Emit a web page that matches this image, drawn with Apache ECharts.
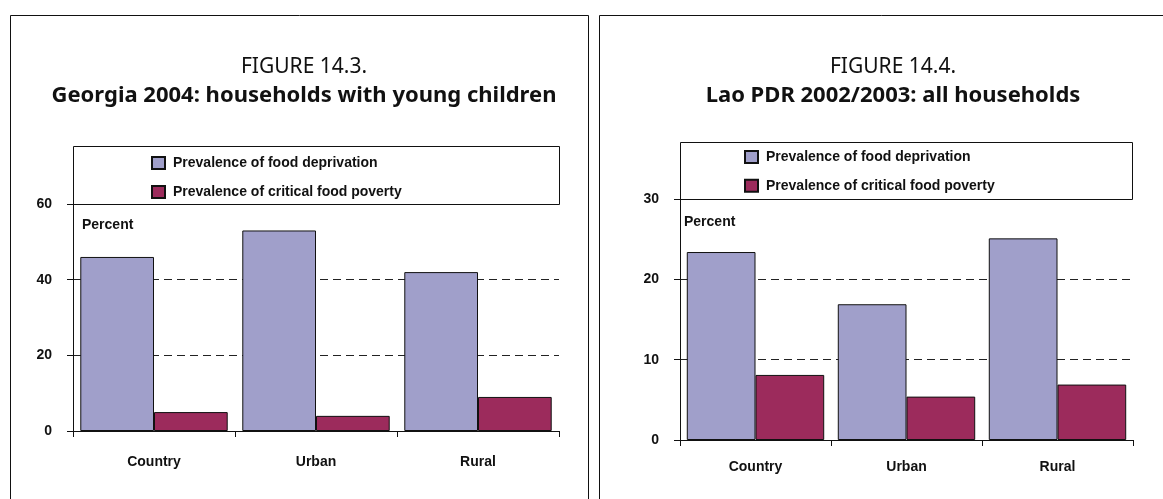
<!DOCTYPE html>
<html>
<head>
<meta charset="utf-8">
<script src="https://cdn.jsdelivr.net/npm/echarts@6/dist/echarts.min.js"></script>
<style>
html,body{margin:0;padding:0;background:#fff;}
#chart{width:1163px;height:499px;}
</style>
</head>
<body>
<div id="chart"></div>
<script>
// ---- data ----
const categories = ['Country', 'Urban', 'Rural'];
const seriesNames = ['Prevalence of food deprivation', 'Prevalence of critical food poverty'];
const georgiaDeprivation = [46, 53, 42];
const georgiaCritical = [5, 4, 9];
const laoDeprivation = [23.4, 16.9, 25.1];
const laoCritical = [8.1, 5.4, 6.9];
const georgiaAxis = { min: 0, max: 60, interval: 20 };
const laoAxis = { min: 0, max: 30, interval: 10 };
const titles = [
  { fig: 'FIGURE 14.3.', sub: 'Georgia 2004: households with young children' },
  { fig: 'FIGURE 14.4.', sub: 'Lao PDR 2002/2003: all households' }
];
const yName = 'Percent';

// ---- style ----
const SANS = "'Liberation Sans', Arial, sans-serif";
const TITLEF = "'Noto Sans', 'Open Sans', sans-serif";
const FS = 14;
const C1 = '#A09FCA';
const C2 = '#9C2B5C';

const chart = echarts.init(document.getElementById('chart'), null, { renderer: 'canvas' });

const grids = [
  { left: 73, right: 1163 - 559, top: 204, bottom: 499 - 431 },
  { left: 680, right: 1163 - 1133, top: 199, bottom: 499 - 440 }
];

function xAx(i, margin) {
  return {
    type: 'category', gridIndex: i, data: categories,
    axisLine: { lineStyle: { color: '#111', width: 1 } },
    axisTick: { show: true, length: 6, lineStyle: { color: '#111' } },
    axisLabel: { color: '#111', fontFamily: SANS, fontWeight: 'bold', fontSize: FS, margin: margin },
    splitLine: { show: false }
  };
}
function yAx(i, ax) {
  return {
    type: 'value', gridIndex: i, min: ax.min, max: ax.max, interval: ax.interval,
    axisLine: { show: true, lineStyle: { color: '#111', width: 1 } },
    axisTick: { show: true, length: 6, lineStyle: { color: '#111' } },
    axisLabel: { color: '#111', fontFamily: SANS, fontWeight: 'bold', fontSize: FS, margin: 21 },
    splitLine: { show: true, lineStyle: { color: '#222', type: [8, 5], width: 1 } }
  };
}
function bar(name, i, data, color) {
  return {
    name: name, type: 'bar', xAxisIndex: i, yAxisIndex: i, data: data,
    barGap: '0%', barCategoryGap: '9%',
    itemStyle: { color: color, borderColor: '#111', borderWidth: 1 },
    emphasis: { disabled: true }, animation: false
  };
}
function legend(left, top, gap) {
  return {
    orient: 'vertical', left: left, top: top, itemGap: gap, padding: 0,
    itemWidth: 13, itemHeight: 12, icon: 'rect',
    data: seriesNames,
    textStyle: { color: '#111', fontFamily: SANS, fontWeight: 'bold', fontSize: FS, lineHeight: 14, padding: [0, 0, 0, 3] },
    selectedMode: false
  };
}

const option = {
  backgroundColor: '#fff',
  animation: false,
  title: [
    { text: titles[0].fig, left: 299, top: 52, textAlign: 'center', textStyle: { fontFamily: TITLEF, fontWeight: 'normal', fontSize: 21, color: '#111' } },
    { text: titles[0].sub, left: 299, top: 80, textAlign: 'center', textStyle: { fontFamily: TITLEF, fontWeight: 'bold', fontSize: 22, color: '#111' } },
    { text: titles[1].fig, left: 888, top: 52, textAlign: 'center', textStyle: { fontFamily: TITLEF, fontWeight: 'normal', fontSize: 21, color: '#111' } },
    { text: titles[1].sub, left: 888, top: 80, textAlign: 'center', textStyle: { fontFamily: TITLEF, fontWeight: 'bold', fontSize: 22, color: '#111' } }
  ],
  legend: [legend(151, 156, 15), legend(744, 150, 14.7)],
  grid: grids,
  xAxis: [xAx(0, 24), xAx(1, 20)],
  yAxis: [yAx(0, georgiaAxis), yAx(1, laoAxis)],
  series: [
    bar(seriesNames[0], 0, georgiaDeprivation, C1),
    bar(seriesNames[1], 0, georgiaCritical, C2),
    bar(seriesNames[0], 1, laoDeprivation, C1),
    bar(seriesNames[1], 1, laoCritical, C2)
  ],
  graphic: [
    // panel frames
    { type: 'rect', shape: { x: 10.5, y: 15.5, width: 578, height: 600 }, style: { fill: 'none', stroke: '#111', lineWidth: 1 }, silent: true },
    { type: 'rect', shape: { x: 599.5, y: 15.5, width: 600, height: 600 }, style: { fill: 'none', stroke: '#111', lineWidth: 1 }, silent: true },
    // legend boxes above plots
    { type: 'rect', z: 10, shape: { x: 73.5, y: 146.5, width: 486, height: 58 }, style: { fill: 'none', stroke: '#111', lineWidth: 1 }, silent: true },
    { type: 'rect', z: 10, shape: { x: 680.5, y: 142.5, width: 452, height: 57 }, style: { fill: 'none', stroke: '#111', lineWidth: 1 }, silent: true },
    // "Percent" labels
    { type: 'text', style: { x: 82, y: 225, text: yName, fill: '#111', font: "bold 14px " + SANS, verticalAlign: 'middle' }, silent: true },
    { type: 'text', style: { x: 684, y: 222, text: yName, fill: '#111', font: "bold 14px " + SANS, verticalAlign: 'middle' }, silent: true }
  ]
};
chart.setOption(option);
</script>
</body>
</html>
